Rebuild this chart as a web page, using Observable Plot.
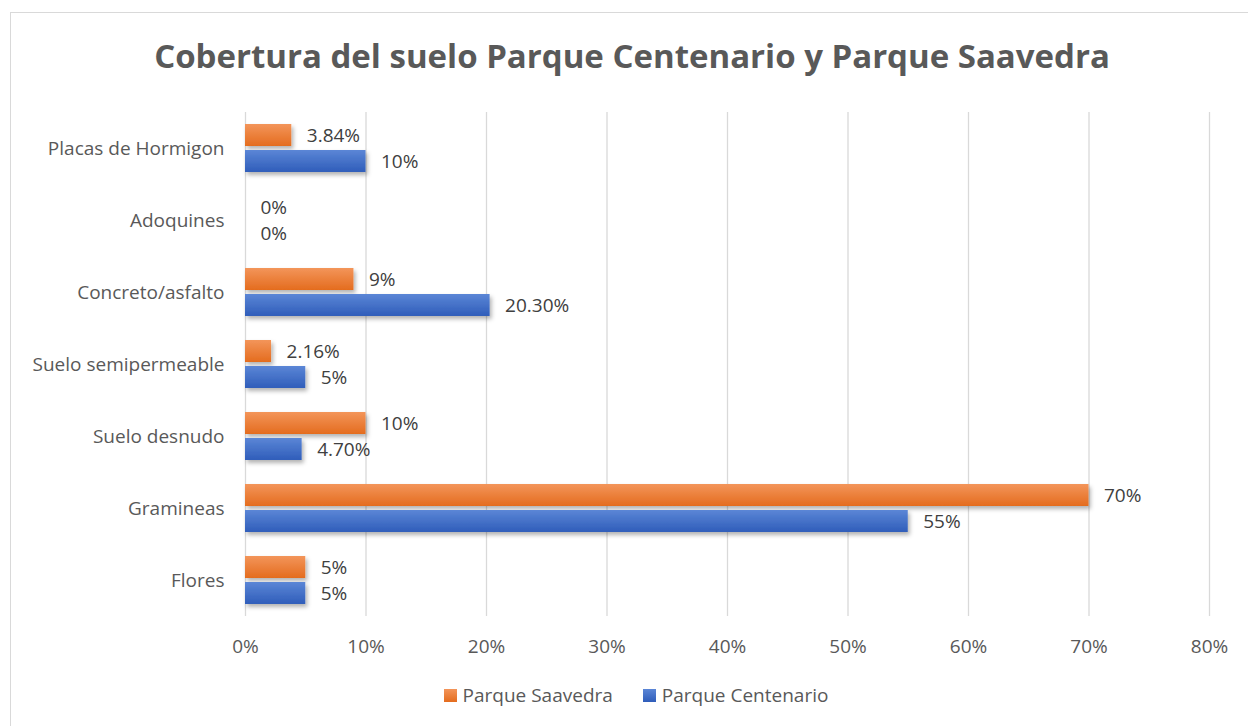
<!DOCTYPE html>
<html>
<head>
<meta charset="utf-8">
<script src="https://cdn.jsdelivr.net/npm/d3@7"></script>
<script src="https://cdn.jsdelivr.net/npm/@observablehq/plot@0.6"></script>
<style>
  html, body { margin: 0; padding: 0; background: #fff; overflow: hidden; }
  body { width: 1248px; height: 726px; position: relative; font-family: "Open Sans", sans-serif; }
  #frame { position: absolute; left: 10px; top: 12px; width: 1260px; height: 730px; border: 1px solid #d9d9d9; box-sizing: border-box; }
  #title { position: absolute; left: 0; width: 1264px; top: 39px; text-align: center; font-weight: 700; font-size: 33px; line-height: 33px; color: #595959; white-space: nowrap; }
  #chart { position: absolute; left: 0; top: 95px; }
  #legend { position: absolute; left: 0; width: 1272px; top: 686px; display: flex; justify-content: center; align-items: center; font-size: 19px; line-height: 19px; color: #595959; }
  .item { display: flex; align-items: center; margin: 0 15px; }
  .sw { width: 13px; height: 13px; margin-right: 6px; }
</style>
</head>
<body>
<div id="frame"></div>
<div id="title">Cobertura del suelo Parque Centenario y Parque Saavedra</div>
<div id="chart"></div>
<div id="legend"></div>
<script>
// ---- data ----
const categories = ["Placas de Hormigon", "Adoquines", "Concreto/asfalto", "Suelo semipermeable", "Suelo desnudo", "Gramineas", "Flores"];
const series = ["Parque Saavedra", "Parque Centenario"];
const saavedraValues = [0.0384, 0, 0.09, 0.0216, 0.10, 0.70, 0.05];
const centenarioValues = [0.10, 0, 0.203, 0.05, 0.047, 0.55, 0.05];
const saavedraLabels = ["3.84%", "0%", "9%", "2.16%", "10%", "70%", "5%"];
const centenarioLabels = ["10%", "0%", "20.30%", "5%", "4.70%", "55%", "5%"];
const xTicks = [0, 0.1, 0.2, 0.3, 0.4, 0.5, 0.6, 0.7, 0.8];

const rows = [];
categories.forEach((c, i) => {
  rows.push({category: c, series: series[0], value: saavedraValues[i], label: saavedraLabels[i]});
  rows.push({category: c, series: series[1], value: centenarioValues[i], label: centenarioLabels[i]});
});
const sa = rows.filter(d => d.series === series[0]);
const ce = rows.filter(d => d.series === series[1]);

const svg = Plot.plot({
  width: 1248,
  height: 570,
  marginTop: 17,
  marginBottom: 49,
  marginLeft: 245,
  marginRight: 39,
  style: {fontFamily: "Open Sans, sans-serif", fontSize: "19px", color: "#595959", background: "transparent"},
  x: {domain: [0, 0.8], axis: null},
  y: {domain: series, paddingInner: 0.1538, paddingOuter: 0, insetTop: 12, insetBottom: 12, axis: null, round: false},
  fy: {domain: categories, padding: 0, axis: null, round: false},
  marks: [
    Plot.gridX(xTicks, {stroke: "#d9d9d9", strokeOpacity: 1, strokeWidth: 1.3}),
    Plot.barX(sa, {x: "value", y: "series", fy: "category", fill: "url(#gOrange)", filter: d => d.value > 0}),
    Plot.barX(ce, {x: "value", y: "series", fy: "category", fill: "url(#gBlue)", filter: d => d.value > 0}),
    Plot.text(rows, {x: "value", y: "series", fy: "category", text: "label", dx: 15, textAnchor: "start", fill: "#404040", fontSize: 19}),
    Plot.axisFy({anchor: "left", tickSize: 0, tickPadding: 21, label: null, fontSize: 19, fill: "#595959"}),
    Plot.axisX(xTicks, {anchor: "bottom", tickSize: 0, tickPadding: 23, tickFormat: d3.format(".0%"), label: null, fontSize: 19, fill: "#595959"})
  ]
});

const s = d3.select(svg);
const defs = s.insert("defs", ":first-child");
function grad(id, top, bottom) {
  const g = defs.append("linearGradient").attr("id", id).attr("x1", 0).attr("y1", 0).attr("x2", 0).attr("y2", 1);
  g.append("stop").attr("offset", "0%").attr("stop-color", top);
  g.append("stop").attr("offset", "100%").attr("stop-color", bottom);
}
grad("gOrange", "#F3955A", "#E46C1E");
grad("gBlue", "#5B86D6", "#2F5DBA");
const f = defs.append("filter").attr("id", "shadow").attr("x", "-10%").attr("y", "-30%").attr("width", "130%").attr("height", "190%");
f.append("feDropShadow").attr("dx", 2).attr("dy", 3).attr("stdDeviation", 2).attr("flood-color", "#000").attr("flood-opacity", 0.3);
s.selectAll("g[aria-label='bar'] rect").attr("filter", "url(#shadow)");

document.getElementById("chart").appendChild(svg);

// legend
const legend = document.getElementById("legend");
[[series[0], "linear-gradient(#F3955A, #E46C1E)"], [series[1], "linear-gradient(#5B86D6, #2F5DBA)"]].forEach(([name, bg]) => {
  const it = document.createElement("div");
  it.className = "item";
  const sw = document.createElement("div");
  sw.className = "sw";
  sw.style.background = bg;
  const t = document.createElement("span");
  t.textContent = name;
  it.appendChild(sw); it.appendChild(t);
  legend.appendChild(it);
});
</script>
</body>
</html>
